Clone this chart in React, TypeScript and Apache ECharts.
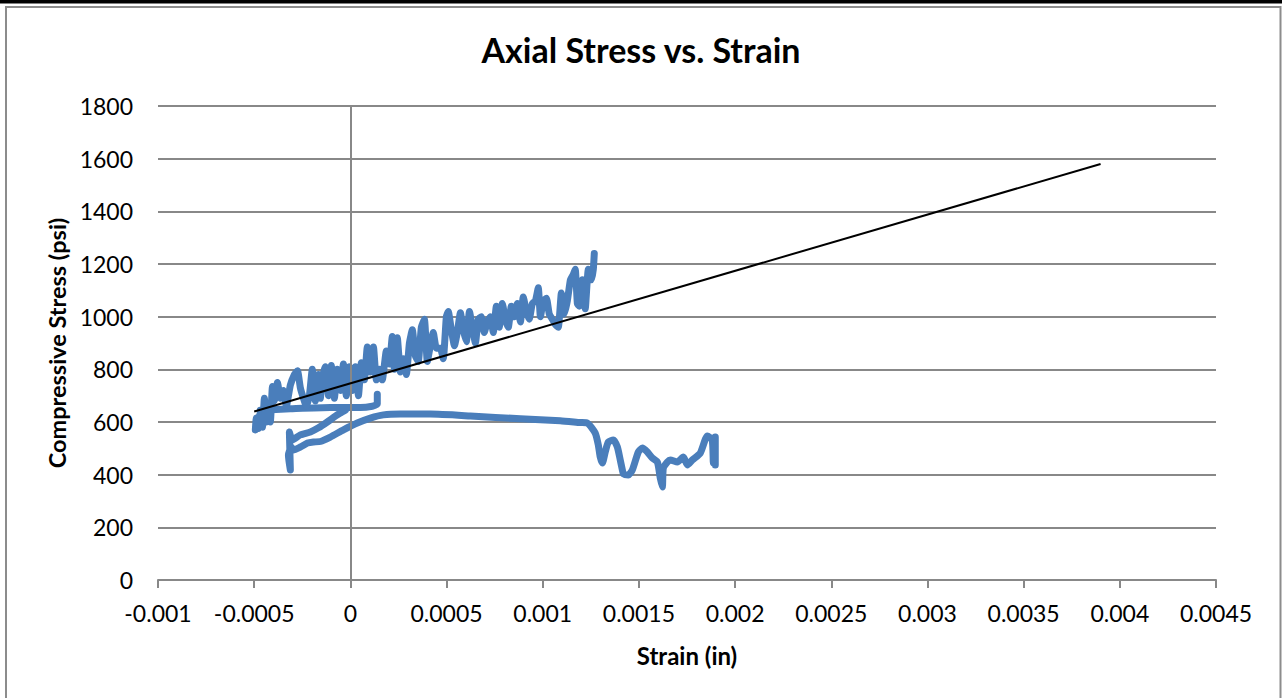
import React, { useEffect, useRef } from "react";
import * as echarts from "echarts";

// ---- Data ----
const xTickLabels = ["-0.001", "-0.0005", "0", "0.0005", "0.001", "0.0015", "0.002", "0.0025", "0.003", "0.0035", "0.004", "0.0045"];
const yTickLabels = ["0", "200", "400", "600", "800", "1000", "1200", "1400", "1600", "1800"];

// Loading branch (noisy band)
const loadStrain = [
  -0.000494, -0.000489, -0.000478, -0.000468, -0.000457, -0.000447, -0.000437, -0.000426, -0.000416, -0.000405,
  -0.000395, -0.000379, -0.000364, -0.000348, -0.000333, -0.000312, -0.000291, -0.000275, -0.00026, -0.000244,
  -0.000229, -0.000213, -0.000198, -0.000182, -0.000166, -0.000156, -0.000146, -0.00013, -0.000114, -0.000099,
  -0.000083, -0.000068, -0.000052, -0.000036, -0.000021, -0.000005, 0.00001, 0.000026, 0.000042, 0.000057,
  0.000073, 0.000088, 0.000104, 0.00012, 0.000135, 0.000151, 0.000166, 0.000187, 0.000203, 0.000218,
  0.000229, 0.000244, 0.00026, 0.000275, 0.000291, 0.000307, 0.000322, 0.000338, 0.000353, 0.000369,
  0.000385, 0.0004, 0.000416, 0.000431, 0.000447, 0.000468, 0.000483, 0.000499, 0.000509, 0.000525,
  0.000541, 0.000556, 0.000572, 0.000587, 0.000603, 0.000619, 0.000634, 0.00065, 0.000665, 0.000681,
  0.000696, 0.000712, 0.000728, 0.000743, 0.000759, 0.000774, 0.00079, 0.000806, 0.000821, 0.000837,
  0.000852, 0.000868, 0.000884, 0.000899, 0.000915, 0.00093, 0.000946, 0.000962, 0.000977, 0.000988,
  0.001003, 0.001019, 0.001034, 0.00105, 0.001066, 0.001081, 0.001097, 0.001112, 0.001128, 0.001144,
  0.001159, 0.001169, 0.00118, 0.00119, 0.001206, 0.001221, 0.001237, 0.001253, 0.001263, 0.001268,
];
const loadStress = [
  570, 615, 575, 640, 580, 690, 600, 650, 600, 735,
  680, 750, 690, 720, 660, 740, 780, 795, 730, 690,
  660, 700, 800, 680, 780, 690, 770, 810, 700, 815,
  690, 800, 720, 820, 700, 810, 720, 810, 700, 825,
  760, 885, 790, 885, 760, 800, 760, 870, 820, 925,
  800, 920, 790, 840, 780, 900, 950, 850, 830, 960,
  990, 830, 890, 940, 880, 880, 840, 1000, 1020, 950,
  890, 940, 1015, 950, 905, 1020, 960, 900, 990, 1000,
  940, 980, 1000, 940, 1040, 960, 1050, 990, 960, 1040,
  1000, 1050, 980, 1075, 1020, 990, 1050, 1060, 1110, 1000,
  1060, 1070, 1010, 990, 970, 960, 1090, 1010, 1060, 1140,
  1160, 1180, 1050, 1040, 1140, 1030, 1180, 1140, 1180, 1240,
];

// Plateau near 650 psi
const plateauStrain = [-0.000468, -0.000312, -0.000104, 0.000052, 0.000114, 0.00014, 0.00014];
const plateauStress = [645, 650, 655, 655, 660, 668, 705];

// Unloading / lower branch
const unloadStrain = [
  -0.000026, -0.000052, -0.000078, -0.00012, -0.000166, -0.000208, -0.00026, -0.000301, -0.000317, -0.000312,
  -0.000322, -0.000307, -0.000296, -0.00026, -0.000223, -0.000192, -0.000156, -0.000104, -0.000036, 0.000036,
  0.000104, 0.000172, 0.00026, 0.000416, 0.000624, 0.000884, 0.001091, 0.001195, 0.001232, 0.001273,
  0.001289, 0.001299, 0.00131, 0.001325, 0.001341, 0.001367, 0.001388, 0.001403, 0.001414, 0.001419,
  0.001445, 0.001466, 0.001497, 0.001518, 0.001544, 0.00157, 0.001596, 0.001611, 0.001622, 0.001627,
  0.001648, 0.001663, 0.0017, 0.001731, 0.001752, 0.001778, 0.001819, 0.001856, 0.001881, 0.001887,
  0.001897, 0.001897,
];
const unloadStress = [
  645, 634, 622, 600, 578, 562, 551, 532, 562, 418,
  475, 505, 494, 505, 520, 524, 526, 543, 570, 596,
  615, 627, 630, 630, 623, 612, 605, 598, 596, 558,
  513, 467, 444, 486, 524, 532, 505, 456, 418, 403,
  399, 418, 486, 501, 486, 463, 448, 387, 353, 425,
  448, 456, 448, 467, 437, 456, 482, 547, 532, 444,
  543, 437,
];

// Linear trendline
const trendStrain = [-0.0005, 0.0039];
const trendStress = [640, 1580];

const zip = (xs: number[], ys: number[]) => xs.map((x, i) => [x, ys[i]]);

const FONT = "Lato, 'Open Sans', 'DejaVu Sans', sans-serif";
const BLUE = "#4A7EBB";
const GRID = "#888888";

export default function App() {
  const ref = useRef<HTMLDivElement>(null);
  useEffect(() => {
    if (!ref.current) return;
    const chart = echarts.init(ref.current, undefined, { renderer: "svg" });
    const xMin = -0.001;
    const xInt = 0.0005;
    const lineCommon = {
      type: "line" as const,
      showSymbol: false,
      symbol: "none",
      smooth: 0.2,
      silent: true,
      lineStyle: { color: BLUE, width: 7, cap: "round", join: "round" },
    };
    chart.setOption({
      animation: false,
      backgroundColor: "#ffffff",
      textStyle: { fontFamily: FONT },
      title: {
        text: "Axial Stress vs. Strain",
        left: "center",
        top: 27,
        textStyle: { fontFamily: FONT, fontSize: 34, fontWeight: "bold", color: "#000" },
      },
      grid: { left: 158, right: 66, top: 106, bottom: 118, containLabel: false },
      xAxis: {
        type: "value",
        min: xMin,
        max: 0.0045,
        interval: xInt,
        name: "Strain (in)",
        nameLocation: "middle",
        nameGap: 63,
        nameTextStyle: { fontFamily: FONT, fontSize: 24, fontWeight: "bold", color: "#000" },
        axisLine: { show: true, onZero: false, lineStyle: { color: GRID, width: 2 } },
        axisTick: { show: true, length: 8, lineStyle: { color: GRID, width: 2 } },
        splitLine: { show: false },
        axisLabel: {
          margin: 21,
          fontSize: 23,
          color: "#000",
          fontFamily: FONT,
          formatter: (v: number) => xTickLabels[Math.round((v - xMin) / xInt)] ?? "",
        },
      },
      yAxis: {
        type: "value",
        min: 0,
        max: 1800,
        interval: 200,
        name: "Compressive Stress (psi)",
        nameLocation: "middle",
        nameGap: 88,
        nameRotate: 90,
        nameTextStyle: { fontFamily: FONT, fontSize: 23.5, fontWeight: "bold", color: "#000" },
        axisLine: { show: false },
        axisTick: { show: false },
        splitLine: { show: true, lineStyle: { color: GRID, width: 2 } },
        axisLabel: {
          margin: 25,
          fontSize: 23,
          color: "#000",
          fontFamily: FONT,
          formatter: (v: number) => yTickLabels[Math.round(v / 200)] ?? "",
        },
      },
      graphic: [
        { type: "rect", silent: true, shape: { x: 0, y: 0, width: 1282, height: 3.5 }, style: { fill: "#000" } },
        {
          type: "rect",
          silent: true,
          shape: { x: 6, y: 7, width: 1274.5, height: 800 },
          style: { fill: "none", stroke: "#8c8c8c", lineWidth: 2 },
        },
      ],
      series: [
        {
          type: "line",
          data: [],
          silent: true,
          markLine: {
            silent: true,
            symbol: "none",
            label: { show: false },
            lineStyle: { color: GRID, width: 2, type: "solid" },
            data: [{ xAxis: 0 }],
          },
        },
        { ...lineCommon, name: "Unloading", data: zip(unloadStrain, unloadStress) },
        { ...lineCommon, name: "Plateau", data: zip(plateauStrain, plateauStress) },
        { ...lineCommon, name: "Loading", smooth: 0.15, data: zip(loadStrain, loadStress) },
        {
          type: "line",
          name: "Linear trend",
          showSymbol: false,
          symbol: "none",
          silent: true,
          z: 5,
          lineStyle: { color: "#000", width: 2 },
          data: zip(trendStrain, trendStress),
        },
      ],
    });
    return () => chart.dispose();
  }, []);
  return (
    <div
      ref={ref}
      style={{ position: "fixed", left: 0, top: 0, width: 1282, height: 698, background: "#fff" }}
    />
  );
}
